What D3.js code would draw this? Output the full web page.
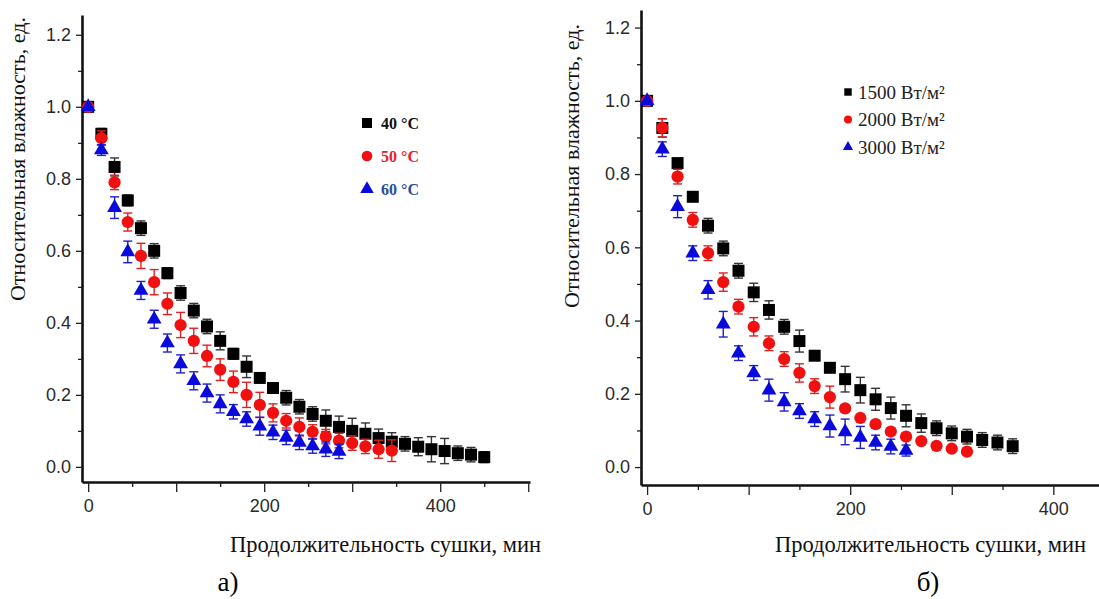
<!DOCTYPE html>
<html>
<head>
<meta charset="utf-8">
<script src="https://cdn.jsdelivr.net/npm/d3@7"></script>
<style>
  body { margin: 0; background: #fff; }
  svg { display: block; }
</style>
</head>
<body>
<div id="chart-area"></div>
<script>
// panel а) — temperature
let timesA40 = [0,15,30,45,60,75,90,105,120,135,150,165,180,195,210,225,240,255,270,285,300,315,330,345,360,375,390,405,420,435,450]
let valsA40 = [1.0,0.925,0.833,0.74,0.663,0.6,0.538,0.483,0.434,0.39,0.35,0.314,0.278,0.247,0.219,0.192,0.167,0.147,0.128,0.111,0.1,0.092,0.08,0.07,0.064,0.056,0.049,0.044,0.038,0.034,0.027]
let errA40 = [0,0.015,0.025,0.015,0.02,0.02,0.015,0.02,0.02,0.02,0.025,0.015,0.03,0.01,0.01,0.02,0.02,0.02,0.03,0.03,0.035,0.03,0.025,0.025,0.02,0.025,0.035,0.035,0.02,0.02,0.015]

let timesA50 = [0,15,30,45,60,75,90,105,120,135,150,165,180,195,210,225,240,255,270,285,300,315,330,345]
let valsA50 = [1.0,0.913,0.79,0.68,0.586,0.513,0.453,0.394,0.35,0.308,0.27,0.236,0.2,0.172,0.15,0.128,0.111,0.097,0.084,0.073,0.066,0.057,0.049,0.045]
let errA50 = [0,0.02,0.02,0.025,0.035,0.035,0.03,0.035,0.035,0.03,0.03,0.03,0.035,0.035,0.025,0.02,0.025,0.02,0.02,0.02,0.02,0.02,0.025,0.03]

let timesA60 = [0,15,30,45,60,75,90,105,120,135,150,165,180,195,210,225,240,255,270,285]
let valsA60 = [1.0,0.88,0.72,0.597,0.49,0.41,0.344,0.286,0.239,0.205,0.175,0.153,0.133,0.113,0.096,0.082,0.068,0.058,0.049,0.043]
let errA60 = [0,0.015,0.03,0.03,0.025,0.025,0.025,0.025,0.025,0.025,0.025,0.02,0.02,0.025,0.02,0.02,0.02,0.02,0.02,0.02]

let legendA = ["40 °C", "50 °C", "60 °C"]

// panel б) — irradiance
let timesB1500 = [0,15,30,45,60,75,90,105,120,135,150,165,180,195,210,225,240,255,270,285,300,315,330,345,360]
let valsB1500 = [1.0,0.926,0.83,0.738,0.659,0.597,0.536,0.477,0.429,0.383,0.344,0.304,0.271,0.24,0.21,0.185,0.161,0.14,0.12,0.106,0.092,0.083,0.074,0.067,0.057]
let errB1500 = [0,0.025,0.01,0.01,0.02,0.02,0.02,0.025,0.025,0.02,0.03,0.01,0.01,0.035,0.035,0.03,0.03,0.03,0.025,0.02,0.02,0.02,0.02,0.02,0.02]

let timesB2000 = [0,15,30,45,60,75,90,105,120,135,150,165,180,195,210,225,240,255,270,285,300,315]
let valsB2000 = [1.0,0.926,0.793,0.675,0.584,0.505,0.438,0.383,0.338,0.295,0.257,0.221,0.191,0.16,0.134,0.117,0.097,0.083,0.071,0.058,0.05,0.042]
let errB2000 = [0,0.025,0.02,0.02,0.02,0.025,0.02,0.025,0.02,0.02,0.025,0.02,0.03,0.01,0.01,0.01,0.01,0.005,0.005,0.005,0.005,0.005]

let timesB3000 = [0,15,30,45,60,75,90,105,120,135,150,165,180,195,210,225,240,255]
let valsB3000 = [1.0,0.868,0.711,0.584,0.484,0.39,0.311,0.257,0.21,0.178,0.153,0.131,0.112,0.096,0.081,0.067,0.056,0.045]
let errB3000 = [0,0.02,0.03,0.02,0.025,0.035,0.02,0.02,0.03,0.025,0.02,0.02,0.03,0.035,0.03,0.02,0.02,0.015]

let legendB = ["1500 Вт/м²", "2000 Вт/м²", "3000 Вт/м²"]

let yTicks = [0, 0.2, 0.4, 0.6, 0.8, 1.0, 1.2]
let yMinor = [0.1, 0.3, 0.5, 0.7, 0.9, 1.1]
let xTicks = [0, 100, 200, 300, 400, 500]
let xMinor = [50, 150, 250, 350, 450]
let xLabelled = [0, 200, 400]

let xTitle = "Продолжительность сушки, мин"
let yTitle = "Относительная влажность, ед."

let svg = d3.select("#chart-area").append("svg")
  .attr("width", 1099)
  .attr("height", 599)

let markerColors = ["#000000", "#f01010", "#0a0adc"]
let barColors = ["#333333", "#e02020", "#2020c8"]
let shapes = [d3.symbolSquare, d3.symbolCircle, d3.symbolTriangle]
let shapeSizes = [144, 118, 95]

function zip(times, vals, errs) {
  return times.map((t, i) => ({ t: t, v: vals[i], e: errs[i] }))
}

function drawPanel(p) {
  let x = d3.scaleLinear().domain(p.xDomain).range(p.xRange)
  let y = d3.scaleLinear().domain(p.yDomain).range(p.yRange)
  let g = svg.append("g")

  // minor ticks
  let xMin = xMinor.filter(d => d <= p.xDomain[1])
  g.append("g")
    .attr("transform", "translate(0," + p.yRange[0] + ")")
    .call(d3.axisBottom(x).tickValues(xMin).tickSize(5).tickSizeOuter(0).tickFormat(""))
    .call(a => a.select(".domain").remove())
  g.append("g")
    .attr("transform", "translate(" + p.xRange[0] + ",0)")
    .call(d3.axisLeft(y).tickValues(yMinor).tickSize(4).tickSizeOuter(0).tickFormat(""))
    .call(a => a.select(".domain").remove())

  // major axes
  let xMaj = xTicks.filter(d => d <= p.xDomain[1])
  g.append("g")
    .attr("transform", "translate(0," + p.yRange[0] + ")")
    .call(d3.axisBottom(x).tickValues(xMaj).tickSize(10).tickSizeOuter(0).tickPadding(7)
      .tickFormat(d => xLabelled.includes(d) ? d : ""))
  g.append("g")
    .attr("transform", "translate(" + p.xRange[0] + ",0)")
    .call(d3.axisLeft(y).tickValues(yTicks).tickSize(6).tickSizeOuter(0).tickPadding(5)
      .tickFormat(d3.format(".1f")))

  g.selectAll(".tick line").attr("stroke", "#222").attr("stroke-width", 1.3)
  g.selectAll(".domain").attr("stroke", "#111").attr("stroke-width", 2.6)
  g.selectAll(".tick text")
    .attr("font-family", "Liberation Sans, Arial, sans-serif")
    .attr("font-size", 18)
    .attr("fill", "#2a2a2a")

  // series
  p.series.forEach((s, k) => {
    let sg = g.append("g")
    let pts = sg.selectAll("g.pt").data(s).enter().append("g")
    let withErr = pts.filter(d => d.e > 0)
    withErr.append("line")
      .attr("x1", d => x(d.t)).attr("x2", d => x(d.t))
      .attr("y1", d => y(d.v - d.e)).attr("y2", d => y(d.v + d.e))
      .attr("stroke", barColors[k]).attr("stroke-width", 1.4)
    withErr.append("line")
      .attr("x1", d => x(d.t) - 4.5).attr("x2", d => x(d.t) + 4.5)
      .attr("y1", d => y(d.v + d.e)).attr("y2", d => y(d.v + d.e))
      .attr("stroke", barColors[k]).attr("stroke-width", 1.4)
    withErr.append("line")
      .attr("x1", d => x(d.t) - 4.5).attr("x2", d => x(d.t) + 4.5)
      .attr("y1", d => y(d.v - d.e)).attr("y2", d => y(d.v - d.e))
      .attr("stroke", barColors[k]).attr("stroke-width", 1.4)
    pts.append("path")
      .attr("d", d3.symbol().type(shapes[k]).size(shapeSizes[k]))
      .attr("transform", d => "translate(" + x(d.t) + "," + y(d.v) + ")")
      .attr("fill", markerColors[k])
  })

  // legend
  p.legend.forEach((label, k) => {
    let ly = p.legendY + k * p.legendStep
    g.append("path")
      .attr("d", d3.symbol().type(shapes[k]).size(p.legendSizes[k]))
      .attr("transform", "translate(" + p.legendX + "," + ly + ")")
      .attr("fill", markerColors[k])
    g.append("text")
      .attr("x", p.legendX + p.legendGap)
      .attr("y", ly)
      .attr("dy", "0.35em")
      .attr("font-family", "Liberation Serif, Times New Roman, serif")
      .attr("font-size", p.legendFont)
      .attr("font-weight", p.legendBold ? "bold" : "normal")
      .attr("fill", p.legendColors[k])
      .text(label)
  })

  // titles
  g.append("text")
    .attr("x", p.xTitleX).attr("y", 552)
    .attr("text-anchor", "end")
    .attr("font-family", "Liberation Serif, Times New Roman, serif")
    .attr("font-size", 22.5)
    .attr("fill", "#111")
    .text(xTitle)
  g.append("text")
    .attr("transform", "translate(" + p.yTitleX + "," + p.yTitleY + ") rotate(-90)")
    .attr("text-anchor", "middle")
    .attr("font-family", "Liberation Serif, Times New Roman, serif")
    .attr("font-size", 22)
    .attr("fill", "#111")
    .text(yTitle)
  g.append("text")
    .attr("x", p.tagX).attr("y", 591)
    .attr("text-anchor", "middle")
    .attr("font-family", "Liberation Serif, Times New Roman, serif")
    .attr("font-size", 27)
    .attr("fill", "#000")
    .text(p.tag)
}

drawPanel({
  xDomain: [-7, 502], xRange: [82, 530],
  yDomain: [-0.042, 1.255], yRange: [482, 15],
  series: [zip(timesA40, valsA40, errA40), zip(timesA50, valsA50, errA50), zip(timesA60, valsA60, errA60)],
  legend: legendA, legendX: 367, legendY: 123, legendStep: 33, legendGap: 14,
  legendSizes: [100, 90, 80], legendFont: 16, legendBold: true,
  legendColors: ["#111111", "#e8202a", "#2a4d9b"],
  xTitleX: 541, yTitleX: 25, yTitleY: 159, tagX: 228, tag: "а)"
})

drawPanel({
  xDomain: [-6, 445], xRange: [641, 1099],
  yDomain: [-0.049, 1.248], yRange: [485, 10],
  series: [zip(timesB1500, valsB1500, errB1500), zip(timesB2000, valsB2000, errB2000), zip(timesB3000, valsB3000, errB3000)],
  legend: legendB, legendX: 848, legendY: 92, legendStep: 27.5, legendGap: 10,
  legendSizes: [55, 50, 45], legendFont: 19, legendBold: false,
  legendColors: ["#222222", "#222222", "#222222"],
  xTitleX: 1086, yTitleX: 579, yTitleY: 166, tagX: 928, tag: "б)"
})
</script>
</body>
</html>
